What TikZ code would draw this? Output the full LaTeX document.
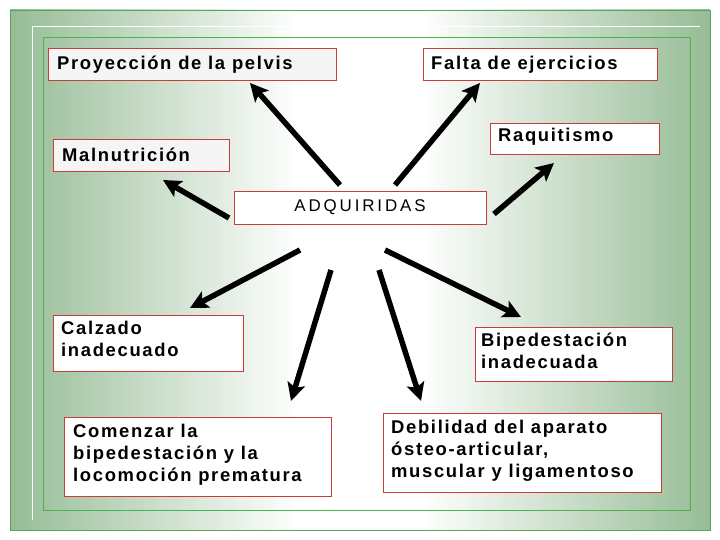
\documentclass[tikz,border=0pt]{standalone}
\usepackage{fontspec}
\setmainfont{Liberation Sans}[LetterSpace=9]
\usetikzlibrary{arrows.meta}
\definecolor{gr}{RGB}{150,188,150}
\definecolor{bx}{RGB}{200,60,60}
\begin{document}
\begin{tikzpicture}[x=1bp,y=-1bp,
  lbl/.style={font=\bfseries\fontsize{18.5}{22}\selectfont,align=left,anchor=north west,inner sep=0pt},
  bb/.style={draw=bx,fill=white,line width=0.8pt},
  arr/.style={line width=5.5pt,-{Stealth[length=18pt,width=18pt,inset=4pt]}}]
\useasboundingbox (0,0) rectangle (720,540);
\fill[white] (0,0) rectangle (720,540);
\shade[left color=gr,right color=white] (10,10) rectangle (300,530);
\fill[white] (299,10) rectangle (421,530);
\shade[left color=white,right color=gr] (420,10) rectangle (710,530);
\draw[gray!70!green,line width=0.8pt] (10,10) rectangle (710,530);
\draw[white,line width=1pt] (32,27) -- (32,520) (32,27) -- (700,27);
\draw[gray!60!green,line width=0.6pt] (43,37) rectangle (690,510);
% boxes
\draw[bb,fill=white!92!gray] (48,48) rectangle (336,80);
\node[lbl] (p) at (57,56) {Proyección de la pelvis};
\draw[bb] (423,48) rectangle (657,80);
\node[lbl] (f) at (431,56) {Falta de ejercicios};
\draw[bb] (490,123) rectangle (659,154);
\node[lbl] (r) at (498,128) {Raquitismo};
\draw[bb,fill=white!92!gray] (53,139) rectangle (229,171);
\node[lbl] (m) at (62,148) {Malnutrición};
\draw[bb] (234,191) rectangle (486,224);
\node[font=\fontsize{17}{20}\selectfont\addfontfeatures{LetterSpace=17},inner sep=0pt] (a) at (360,207) {ADQUIRIDAS};
\draw[bb] (53,315) rectangle (243,371);
\node[lbl] (c) at (61,321) {Calzado\\inadecuado};
\draw[bb] (475,327) rectangle (672,381);
\node[lbl] (b) at (481,333) {Bipedestación\\inadecuada};
\draw[bb] (64,417) rectangle (331,496);
\node[lbl] (co) at (73,424) {Comenzar la\\bipedestación y la\\locomoción prematura};
\draw[bb] (383,413) rectangle (661,492);
\node[lbl] (d) at (391,420) {Debilidad del aparato\\ósteo-articular,\\muscular y ligamentoso};
% arrows
\coordinate (t1) at (340,185); \coordinate (h1) at (250,83);
\coordinate (t2) at (395,185); \coordinate (h2) at (480,83);
\coordinate (t3) at (229,218); \coordinate (h3) at (163,180);
\coordinate (t4) at (494,214); \coordinate (h4) at (554,163);
\coordinate (t5) at (300,250); \coordinate (h5) at (190,308);
\coordinate (t6) at (331,270); \coordinate (h6) at (291,401);
\coordinate (t7) at (379,270); \coordinate (h7) at (421,401);
\coordinate (t8) at (385,250); \coordinate (h8) at (521,317);
\foreach \i in {1,...,8} \draw[arr] (t\i) -- (h\i);
\end{tikzpicture}
\end{document}
